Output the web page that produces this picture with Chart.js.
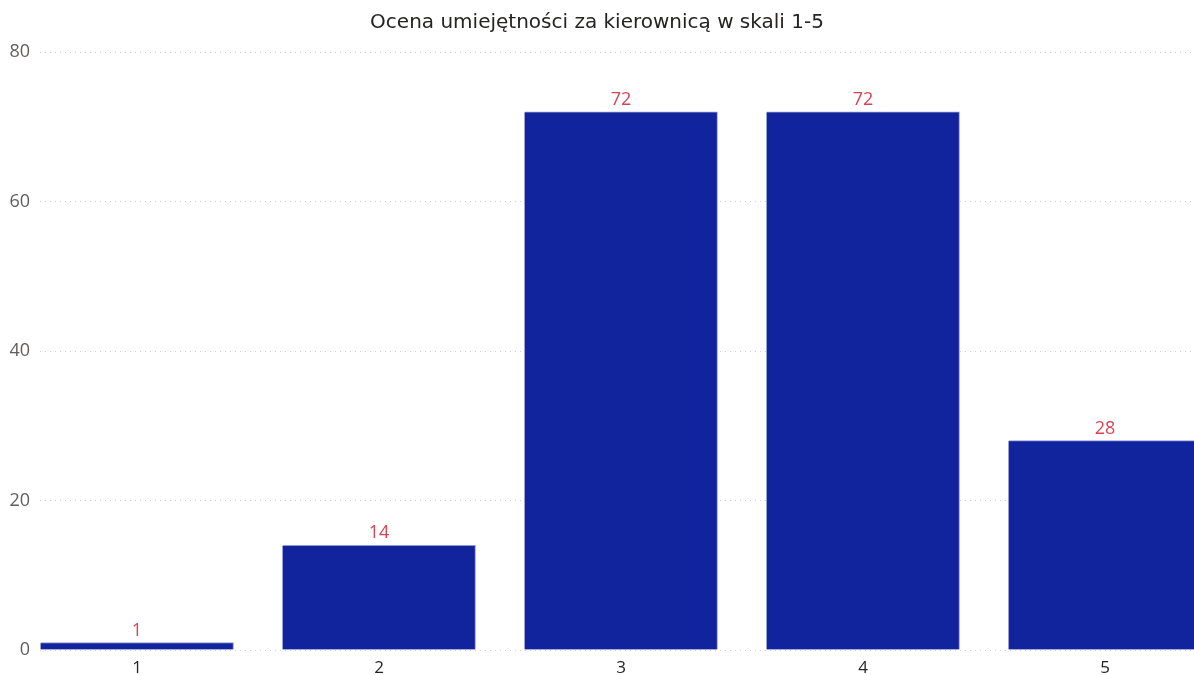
<!DOCTYPE html>
<html lang="pl">
<head>
<meta charset="utf-8">
<title>Ocena umiejętności za kierownicą</title>
<script src="https://cdn.jsdelivr.net/npm/chart.js@4"></script>
<style>
    html, body { margin: 0; padding: 0; background: #fff; }
    #wrap { width: 1194px; height: 675px; position: relative; }
</style>
</head>
<body>
<div id="wrap"><canvas id="ocenaChart"></canvas></div>
<script>
const oceny = [1, 2, 3, 4, 5];
const liczbaOdpowiedzi = [1, 14, 72, 72, 28];
const tytul = 'Ocena umiejętności za kierownicą w skali 1-5';

// Etykiety wartości nad słupkami
const etykietyWartosci = {
    id: 'etykietyWartosci',
    afterDatasetsDraw(chart) {
        const ctx = chart.ctx;
        const meta = chart.getDatasetMeta(0);
        ctx.save();
        ctx.font = '18px "Open Sans", sans-serif';
        ctx.fillStyle = '#d64554';
        ctx.textAlign = 'center';
        ctx.textBaseline = 'bottom';
        meta.data.forEach((bar, i) => {
            ctx.fillText(String(liczbaOdpowiedzi[i]), bar.x, bar.y - 3);
        });
        ctx.restore();
    }
};

new Chart(document.getElementById('ocenaChart'), {
    type: 'bar',
    data: {
        datasets: [{
            data: oceny.map((o, i) => ({ x: o, y: liczbaOdpowiedzi[i] })),
            backgroundColor: '#12239e',
            borderColor: '#8f99d4',
            borderWidth: { top: 1, right: 1, left: 0, bottom: 0 },
            barThickness: 193
        }]
    },
    options: {
        responsive: true,
        maintainAspectRatio: false,
        animation: false,
        layout: { padding: 0 },
        plugins: {
            legend: { display: false },
            tooltip: { enabled: false },
            title: {
                display: true,
                text: tytul,
                color: '#252423',
                font: { family: '"DejaVu Sans", sans-serif', size: 20, weight: 'normal' },
                padding: { top: 11, bottom: 17 }
            }
        },
        scales: {
            x: {
                type: 'linear',
                offset: false,
                min: 0.5992,
                max: 5.3678,
                grid: { display: false },
                border: { display: false },
                ticks: { color: '#252423', font: { family: '"Open Sans", sans-serif', size: 17 }, padding: 0 },
                afterBuildTicks(scale) { scale.ticks = oceny.map(v => ({ value: v })); },
                afterFit(scale) { scale.height = 25; }
            },
            y: {
                min: 0,
                max: 80,
                ticks: { stepSize: 20, color: '#605e5c', font: { family: '"Open Sans", sans-serif', size: 18 }, padding: 10 },
                grid: { color: '#cfcfcf', drawTicks: false },
                border: { display: false, dash: [1, 4] },
                afterFit(scale) { scale.width = 40; }
            }
        }
    },
    plugins: [etykietyWartosci]
});
</script>
</body>
</html>
